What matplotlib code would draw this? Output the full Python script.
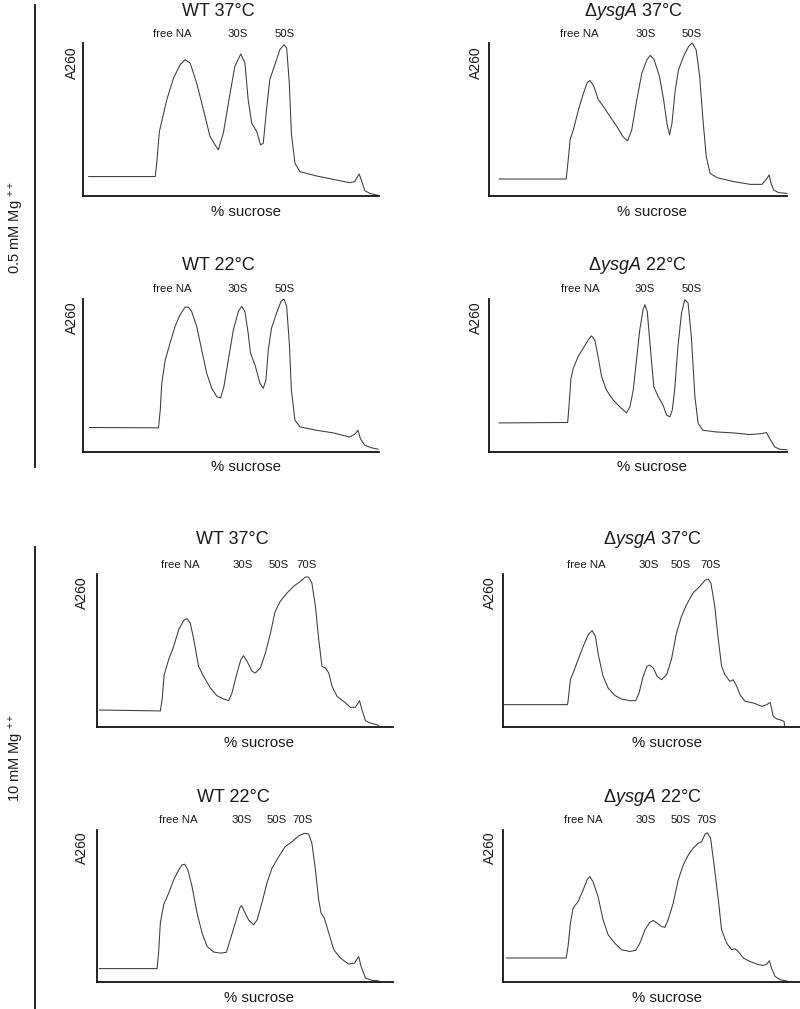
import numpy as np
import matplotlib
matplotlib.use('Agg')
import matplotlib.pyplot as plt

plt.rcParams['font.family'] = ['Liberation Sans', 'DejaVu Sans']
plt.rcParams['mathtext.fontset'] = 'custom'
plt.rcParams['mathtext.rm'] = 'Liberation Sans'
plt.rcParams['mathtext.it'] = 'Liberation Sans:italic'
plt.rcParams['mathtext.default'] = 'regular'

# ---- profiles: x = position along gradient (%), y = A260 (% of axis)
# 0.5 mM Mg++ , WT 37C
wt37_lo_x = [1.9, 24.4, 24.9, 25.8, 28.3, 30.6, 32.8, 34.5, 36.2, 38.4, 40.7, 42.9, 45.7, 47.4, 49.7,
             51.3, 53.3, 54.7, 55.8, 57.0, 58.7, 60.0, 60.9, 62.0, 63.1, 64.8, 66.5, 67.9, 68.8, 69.7,
             70.4, 71.6, 73.3, 78.9, 84.5, 90.1, 91.8, 93.3, 94.0, 95.2, 96.9, 99.7]
wt37_lo_y = [12.7, 12.7, 21.4, 42.1, 62.9, 77.1, 85.8, 89.1, 86.9, 73.8, 56.3, 38.9, 30.1, 41.0, 67.2,
             84.7, 92.8, 86.9, 62.9, 47.6, 42.1, 33.4, 34.5, 56.3, 76.0, 85.8, 95.6, 98.9, 96.7, 73.8,
             41.0, 21.4, 15.9, 13.1, 10.9, 8.7, 9.4, 14.4, 10.5, 3.5, 1.7, 0.4]

# 0.5 mM Mg++ , dysgA 37C
ko37_lo_x = [3.4, 25.9, 26.7, 27.2, 28.3, 30.0, 31.7, 33.0, 33.9, 35.1, 36.7, 38.4, 40.6, 42.9, 44.9,
             46.5, 47.9, 49.6, 51.3, 53.0, 54.1, 55.4, 57.2, 58.6, 59.7, 60.6, 61.4, 62.5, 63.6, 65.3,
             67.0, 68.2, 69.5, 70.7, 71.8, 72.9, 74.2, 76.5, 82.1, 87.7, 91.6, 93.3, 94.0, 94.6, 95.5,
             97.2, 100.0]
ko37_lo_y = [11.1, 11.1, 25.8, 36.7, 43.2, 56.3, 67.2, 74.2, 75.5, 72.1, 62.9, 58.5, 52.0, 45.4, 38.9,
             36.0, 43.2, 62.9, 80.3, 89.1, 91.9, 89.1, 78.2, 62.9, 47.6, 40.0, 47.6, 69.4, 82.5, 91.3,
             97.8, 100.0, 95.6, 78.2, 49.8, 25.8, 14.8, 12.0, 9.4, 7.6, 7.6, 11.6, 13.8, 8.7, 3.9,
             2.2, 1.7]

# 0.5 mM Mg++ , WT 22C
wt22_lo_x = [2.2, 25.5, 26.1, 26.6, 27.8, 29.4, 31.1, 32.8, 34.5, 35.6, 36.7, 38.4, 40.1, 41.8, 43.5,
             45.2, 46.5, 47.6, 49.1, 50.8, 52.5, 53.6, 54.7, 55.8, 56.6, 58.1, 59.8, 60.9, 61.8, 62.6,
             63.7, 65.4, 66.9, 67.9, 68.8, 69.7, 70.4, 71.6, 73.3, 78.9, 84.5, 90.1, 91.8, 92.9, 93.7,
             95.2, 97.4, 99.7]
wt22_lo_y = [16.0, 15.8, 27.4, 44.9, 60.2, 71.1, 82.1, 89.7, 94.7, 94.7, 91.9, 82.1, 66.8, 51.4, 41.6,
             36.1, 35.4, 42.7, 60.2, 79.9, 91.9, 95.2, 91.9, 77.7, 64.6, 56.9, 44.9, 41.6, 47.0, 66.8,
             81.0, 90.8, 98.5, 100.0, 95.2, 71.1, 40.5, 20.8, 16.4, 14.2, 12.5, 9.8, 11.6, 14.2, 8.8,
             4.4, 2.8, 1.8]

# 0.5 mM Mg++ , dysgA 22C
ko22_lo_x = [3.4, 26.4, 26.9, 27.5, 28.3, 29.9, 31.6, 33.3, 34.4, 35.5, 36.6, 37.8, 39.4, 41.7, 43.9,
             46.1, 47.3, 48.4, 49.5, 50.6, 51.7, 52.3, 53.1, 54.2, 55.3, 56.8, 58.4, 59.6, 60.7, 61.5,
             62.3, 63.4, 64.6, 65.7, 66.8, 67.9, 69.1, 70.2, 71.8, 76.3, 81.9, 87.5, 91.4, 93.1, 94.2,
             95.9, 97.5, 100.0]
ko22_lo_y = [19.0, 19.3, 31.7, 48.1, 54.7, 62.4, 67.8, 73.3, 75.9, 73.3, 62.4, 49.2, 40.5, 33.9, 29.5,
             25.6, 29.5, 40.5, 60.2, 79.9, 93.0, 96.3, 91.9, 66.8, 42.7, 36.1, 30.6, 24.1, 23.0, 27.4,
             40.5, 68.9, 90.8, 99.6, 97.4, 75.5, 36.1, 18.6, 14.2, 13.1, 12.5, 11.4, 12.0, 12.7, 8.8,
             3.3, 1.8, 1.5]

# 10 mM Mg++ , WT 37C
wt37_hi_x = [0.8, 21.4, 22.0, 22.7, 24.2, 25.9, 27.6, 29.3, 30.4, 31.5, 32.7, 34.3, 36.0, 38.3, 40.5,
             42.8, 44.5, 45.6, 47.3, 48.6, 49.5, 50.7, 52.4, 53.5, 55.2, 56.9, 58.6, 60.2, 61.9, 64.2,
             66.4, 68.7, 70.4, 71.5, 72.6, 73.8, 74.9, 76.0, 77.1, 78.3, 79.4, 81.1, 83.3, 85.6, 87.3,
             88.7, 89.5, 90.7, 92.3, 95.2]
wt37_hi_y = [11.1, 10.5, 17.9, 34.2, 44.0, 52.7, 63.6, 69.7, 70.8, 68.0, 57.1, 39.7, 33.1, 25.5, 20.5,
             18.3, 17.2, 22.2, 35.3, 44.0, 46.6, 42.9, 36.4, 35.3, 38.6, 48.4, 61.4, 75.6, 82.1, 87.6,
             91.9, 95.2, 98.0, 98.0, 94.1, 78.9, 57.1, 39.7, 38.6, 35.3, 26.6, 20.0, 16.8, 12.9, 12.9,
             17.2, 11.3, 4.1, 2.6, 1.1]

# 10 mM Mg++ , dysgA 37C
ko37_hi_x = [0.2, 21.7, 21.9, 22.7, 23.6, 25.3, 27.0, 28.7, 30.0, 31.1, 32.2, 33.7, 35.4, 37.6, 39.9,
             42.7, 44.7, 45.8, 47.2, 48.5, 49.4, 50.6, 51.9, 53.4, 55.1, 56.7, 58.4, 60.1, 61.8, 64.0,
             66.3, 68.0, 69.1, 70.0, 71.3, 72.5, 73.6, 74.7, 76.4, 77.5, 78.7, 79.8, 81.5, 84.3, 87.1,
             88.8, 89.9, 90.4, 91.0, 92.1, 93.8, 94.6, 94.9]
ko37_hi_y = [14.6, 14.6, 16.8, 30.9, 35.3, 44.0, 52.7, 60.3, 63.0, 59.3, 46.2, 33.1, 25.5, 20.7, 18.3,
             17.2, 17.2, 22.2, 33.1, 39.7, 40.5, 38.6, 33.1, 30.9, 34.2, 44.0, 61.4, 72.3, 80.0, 87.6,
             91.9, 95.9, 96.7, 94.1, 78.9, 57.1, 39.7, 34.2, 29.8, 30.9, 26.6, 21.1, 16.8, 15.7, 13.5,
             14.6, 16.1, 12.4, 7.0, 5.4, 4.4, 3.7, 0.4]

# 10 mM Mg++ , WT 22C
wt22_hi_x = [0.8, 20.3, 20.8, 21.4, 22.5, 24.2, 25.9, 27.6, 28.7, 29.6, 30.7, 32.1, 33.8, 35.5, 37.2,
             39.4, 41.7, 43.7, 45.0, 46.7, 48.2, 48.8, 49.8, 51.2, 52.9, 54.1, 55.7, 57.4, 59.1, 61.4,
             63.6, 65.9, 68.1, 70.0, 71.5, 72.6, 73.8, 74.9, 75.7, 76.8, 78.3, 80.0, 82.2, 85.0, 87.0,
             88.4, 89.2, 90.7, 92.9, 95.2]
wt22_hi_y = [8.8, 8.8, 19.0, 38.7, 50.8, 58.4, 67.2, 73.7, 77.0, 77.5, 73.7, 62.8, 45.3, 32.2, 23.4,
             19.7, 19.0, 19.5, 27.8, 38.7, 48.6, 50.3, 46.4, 40.9, 37.6, 40.9, 51.9, 65.0, 74.8, 82.5,
             89.1, 92.3, 96.1, 97.8, 97.4, 91.2, 73.7, 54.0, 45.3, 42.0, 32.2, 21.2, 15.8, 11.8, 12.5,
             16.8, 10.3, 2.6, 1.1, 0.7]

# 10 mM Mg++ , dysgA 22C
ko22_hi_x = [1.1, 21.3, 21.9, 22.7, 23.6, 25.3, 27.0, 28.3, 29.2, 30.3, 32.0, 33.7, 35.4, 37.6, 39.9,
             42.7, 44.7, 46.1, 47.8, 49.4, 50.6, 51.9, 53.4, 54.5, 55.6, 57.3, 59.0, 60.7, 62.4, 64.0,
             65.7, 66.9, 68.0, 68.8, 69.9, 71.0, 72.5, 73.6, 75.3, 77.0, 78.1, 79.2, 80.9, 83.1, 86.0,
             87.6, 88.8, 89.7, 90.4, 91.6, 93.3, 96.1]
ko22_hi_y = [15.8, 15.8, 23.4, 38.7, 48.6, 53.0, 60.6, 67.2, 69.4, 66.1, 56.2, 40.9, 31.1, 25.6, 21.2,
             20.1, 20.8, 25.6, 34.4, 39.2, 40.5, 38.7, 36.5, 35.9, 40.9, 51.9, 67.2, 77.0, 83.6, 88.0,
             91.2, 92.3, 97.2, 98.2, 94.5, 78.1, 54.0, 34.4, 25.6, 21.2, 21.9, 20.1, 15.8, 13.6, 11.4,
             10.9, 11.8, 14.0, 9.2, 3.7, 1.5, 0.4]

titles = ['WT 37°C', r'Δ$\mathit{ysgA}$ 37°C', 'WT 22°C', r'Δ$\mathit{ysgA}$ 22°C',
          'WT 37°C', r'Δ$\mathit{ysgA}$ 37°C', 'WT 22°C', r'Δ$\mathit{ysgA}$ 22°C']
peaks_lo = ['free NA', '30S', '50S']
peaks_hi = ['free NA', '30S', '50S', '70S']
group_labels = ['0.5 mM Mg $^{++}$', '10 mM Mg $^{++}$']

profiles = [(wt37_lo_x, wt37_lo_y), (ko37_lo_x, ko37_lo_y), (wt22_lo_x, wt22_lo_y), (ko22_lo_x, ko22_lo_y),
            (wt37_hi_x, wt37_hi_y), (ko37_hi_x, ko37_hi_y), (wt22_hi_x, wt22_hi_y), (ko22_hi_x, ko22_hi_y)]

# ---- layout, in pixels of the 800x1009 picture
W, H = 800, 1009
# axes box: left, right, top, bottom
boxes = [(83, 379, 43, 196), (489, 787, 43, 196), (83, 379, 299, 452), (489, 787, 299, 452),
         (97, 393, 574, 727), (503, 800, 574, 727), (97, 393, 830, 982), (503, 800, 830, 982)]
title_pos = [(218, 11), (633, 12), (218, 265), (637, 265),
             (232, 540), (652, 540), (233, 797), (652, 797)]
peak_y = [34, 34, 289, 289, 565, 565, 820, 820]
peak_x = [[172, 238, 285], [579, 646, 692], [172, 238, 285], [580, 645, 692],
          [180, 243, 279, 307], [586, 649, 681, 711], [178, 242, 277, 303], [583, 646, 681, 707]]
xlab_pos = [(246, 212), (652, 212), (246, 467), (652, 467),
            (259, 743), (667, 743), (259, 998), (667, 998)]
ylab_pos = [(72, 63), (476, 63), (72, 318), (476, 318),
            (82, 593), (490, 593), (82, 848), (490, 848)]

fig = plt.figure(figsize=(W / 100, H / 100), dpi=100)


def fx(px):
    return px / W


def fy(py):
    return 1 - py / H


for i, (x, y) in enumerate(profiles):
    l, r, t, b = boxes[i]
    ax = fig.add_axes([fx(l), fy(b), (r - l) / W, (b - t) / H])
    ax.plot(x, y, color='#3a3a3a', lw=0.75, clip_on=False)
    ax.set_xlim(0, 100)
    ax.set_ylim(0, 100)
    for s in ['top', 'right']:
        ax.spines[s].set_visible(False)
    for s in ['left', 'bottom']:
        ax.spines[s].set_linewidth(1.3)
        ax.spines[s].set_color('#111111')
    ax.set_xticks([])
    ax.set_yticks([])
    ax.patch.set_alpha(0)

    fig.text(fx(title_pos[i][0]), fy(title_pos[i][1]), titles[i], fontsize=13,
             ha='center', va='center', color='#1a1a1a')
    names = peaks_lo if i < 4 else peaks_hi
    for name, px in zip(names, peak_x[i]):
        fig.text(fx(px), fy(peak_y[i]), name, fontsize=8.2, ha='center', va='center', color='#1a1a1a')
    fig.text(fx(xlab_pos[i][0]), fy(xlab_pos[i][1]), '% sucrose', fontsize=10.8,
             ha='center', va='center', color='#1a1a1a')
    fig.text(fx(ylab_pos[i][0]), fy(ylab_pos[i][1]), 'A260', fontsize=10, rotation=90,
             ha='center', va='center', color='#1a1a1a')

# group brackets on the left
fig.add_artist(plt.Line2D([fx(35), fx(35)], [fy(5), fy(467)], color='#111111', lw=1.3))
fig.add_artist(plt.Line2D([fx(35), fx(35)], [fy(547), fy(1009)], color='#111111', lw=1.3))
fig.text(fx(17), fy(228), group_labels[0], fontsize=10.5, rotation=90, ha='center', va='center',
         color='#1a1a1a')
fig.text(fx(17), fy(758), group_labels[1], fontsize=10.5, rotation=90, ha='center', va='center',
         color='#1a1a1a')

fig.savefig('out.png', dpi=100, facecolor='white')
